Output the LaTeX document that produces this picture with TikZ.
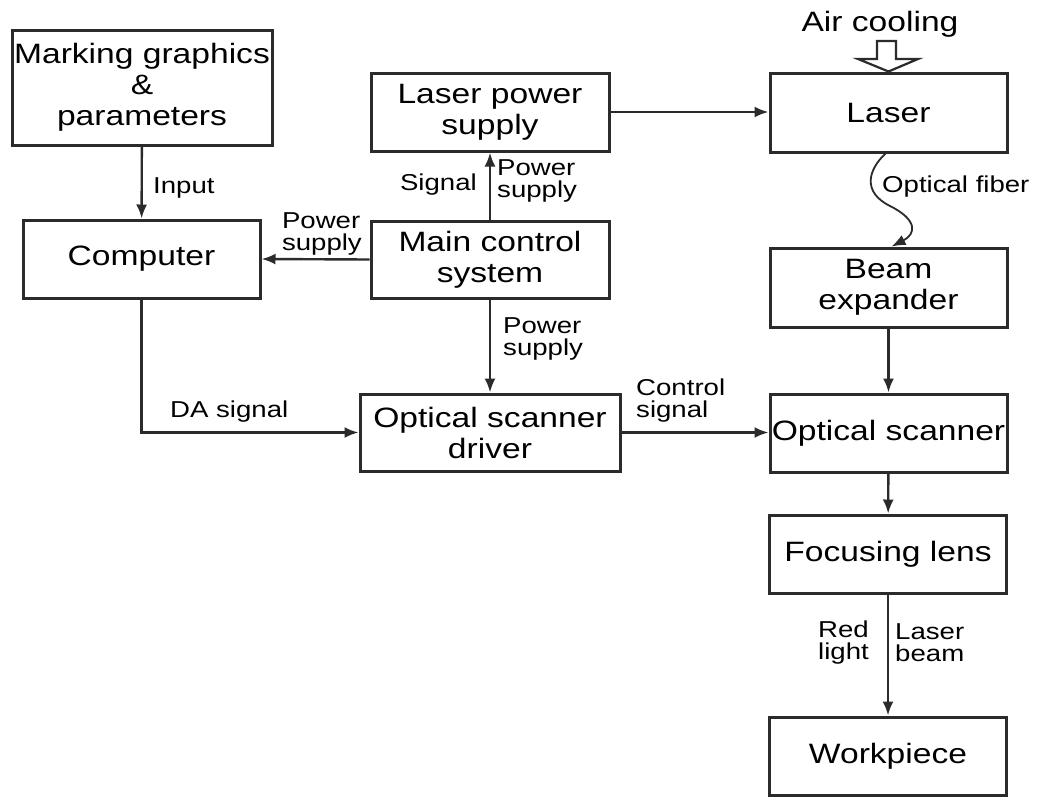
\documentclass[tikz,border=0pt]{standalone}
\usepackage{fontspec}
\setmainfont{Liberation Sans}[FakeStretch=1.2]
\usetikzlibrary{arrows.meta}
\definecolor{ink}{HTML}{2B2B2B}
\begin{document}
\begin{tikzpicture}[x=1pt,y=-1pt,
  box/.style={draw=ink, line width=3pt, fill=white, minimum width=237pt, minimum height=78pt,
    inner sep=0pt, align=center, font=\fontsize{28}{31}\selectfont, text=black},
  lab/.style={inner sep=0pt, font=\fontsize{23}{22}\selectfont, align=left, text=black},
  arr/.style={draw=ink, line width=2.4pt, -{Latex[length=14pt,width=11pt]}}]
\useasboundingbox[fill=white] (0,0) rectangle (1043,796);
% boxes
\node[box, minimum width=260pt, minimum height=115pt] (mark) at (142,87.5) {Marking graphics\\\&\\parameters};
\node[box] (comp) at (141.5,259) {Computer};
\node[box, minimum width=238pt] (lps) at (490,112) {Laser power\\supply};
\node[box, minimum width=238pt, minimum height=77pt] (mcs) at (490,259.5) {Main control\\system};
\node[box, minimum width=260pt, minimum height=77pt] (osd) at (490,432.5) {Optical scanner\\driver};
\node[box, minimum height=79pt] (laser) at (888.5,112.5) {Laser};
\node[box, minimum height=79pt] (be) at (888.5,287.5) {Beam\\expander};
\node[box] (os) at (888.5,433) {Optical scanner};
\node[box] (fl) at (888,554) {Focusing lens};
\node[box] (wp) at (888,756) {Workpiece};
% air cooling
\node[inner sep=0pt, font=\fontsize{28}{30}\selectfont] (cool) at (880,24) {Air cooling};
\draw[draw=ink, line width=2.2pt, fill=white, line join=miter]
  (877,41) -- (896,41) -- (896,59) -- (918,59) -- (laser.north) -- (858,59) -- (877,59) -- cycle;
% connectors
\draw[arr] (mark) -- (comp);
\node[lab, anchor=west] (linput) at (153,188) {Input};
\draw[arr] (mcs.west) -- (comp.east);
\node[lab, anchor=east, align=left] (lps1) at (362,234) {Power\\supply};
\draw[arr] (mcs.north) -- (lps.south);
\node[lab, anchor=east] (lsig) at (477,185) {Signal};
\node[lab, anchor=west] (lps2) at (497,181) {Power\\supply};
\draw[arr] (lps.east) -- (lps.east -| laser.west);
\draw[arr] (mcs.south) -- (osd.north);
\node[lab, anchor=west] (lps3) at (503,339) {Power\\supply};
\draw[arr] (comp.south) |- (osd.west);
\node[lab, anchor=west] (lda) at (170,412) {DA signal};
\draw[arr] (osd.east) -- (osd.east -| os.west);
\node[lab, anchor=west] (lctl) at (636,401) {Control\\signal};
\draw[arr, line width=1.8pt] ([xshift=-3pt]laser.south) .. controls (868,170) and (862,192) .. (890,206)
  .. controls (918,220) and (916,234) .. ([xshift=3pt]be.north);
\node[lab, anchor=west] (lfib) at (882,187) {Optical fiber};
\draw[arr] (be) -- (os);
\draw[arr] (os) -- (fl);
\draw[arr] (fl) -- (wp);
\node[lab, anchor=east] (lred) at (869,643) {Red\\light};
\node[lab, anchor=west] (lbeam) at (895,643) {Laser\\beam};
\end{tikzpicture}
\end{document}
